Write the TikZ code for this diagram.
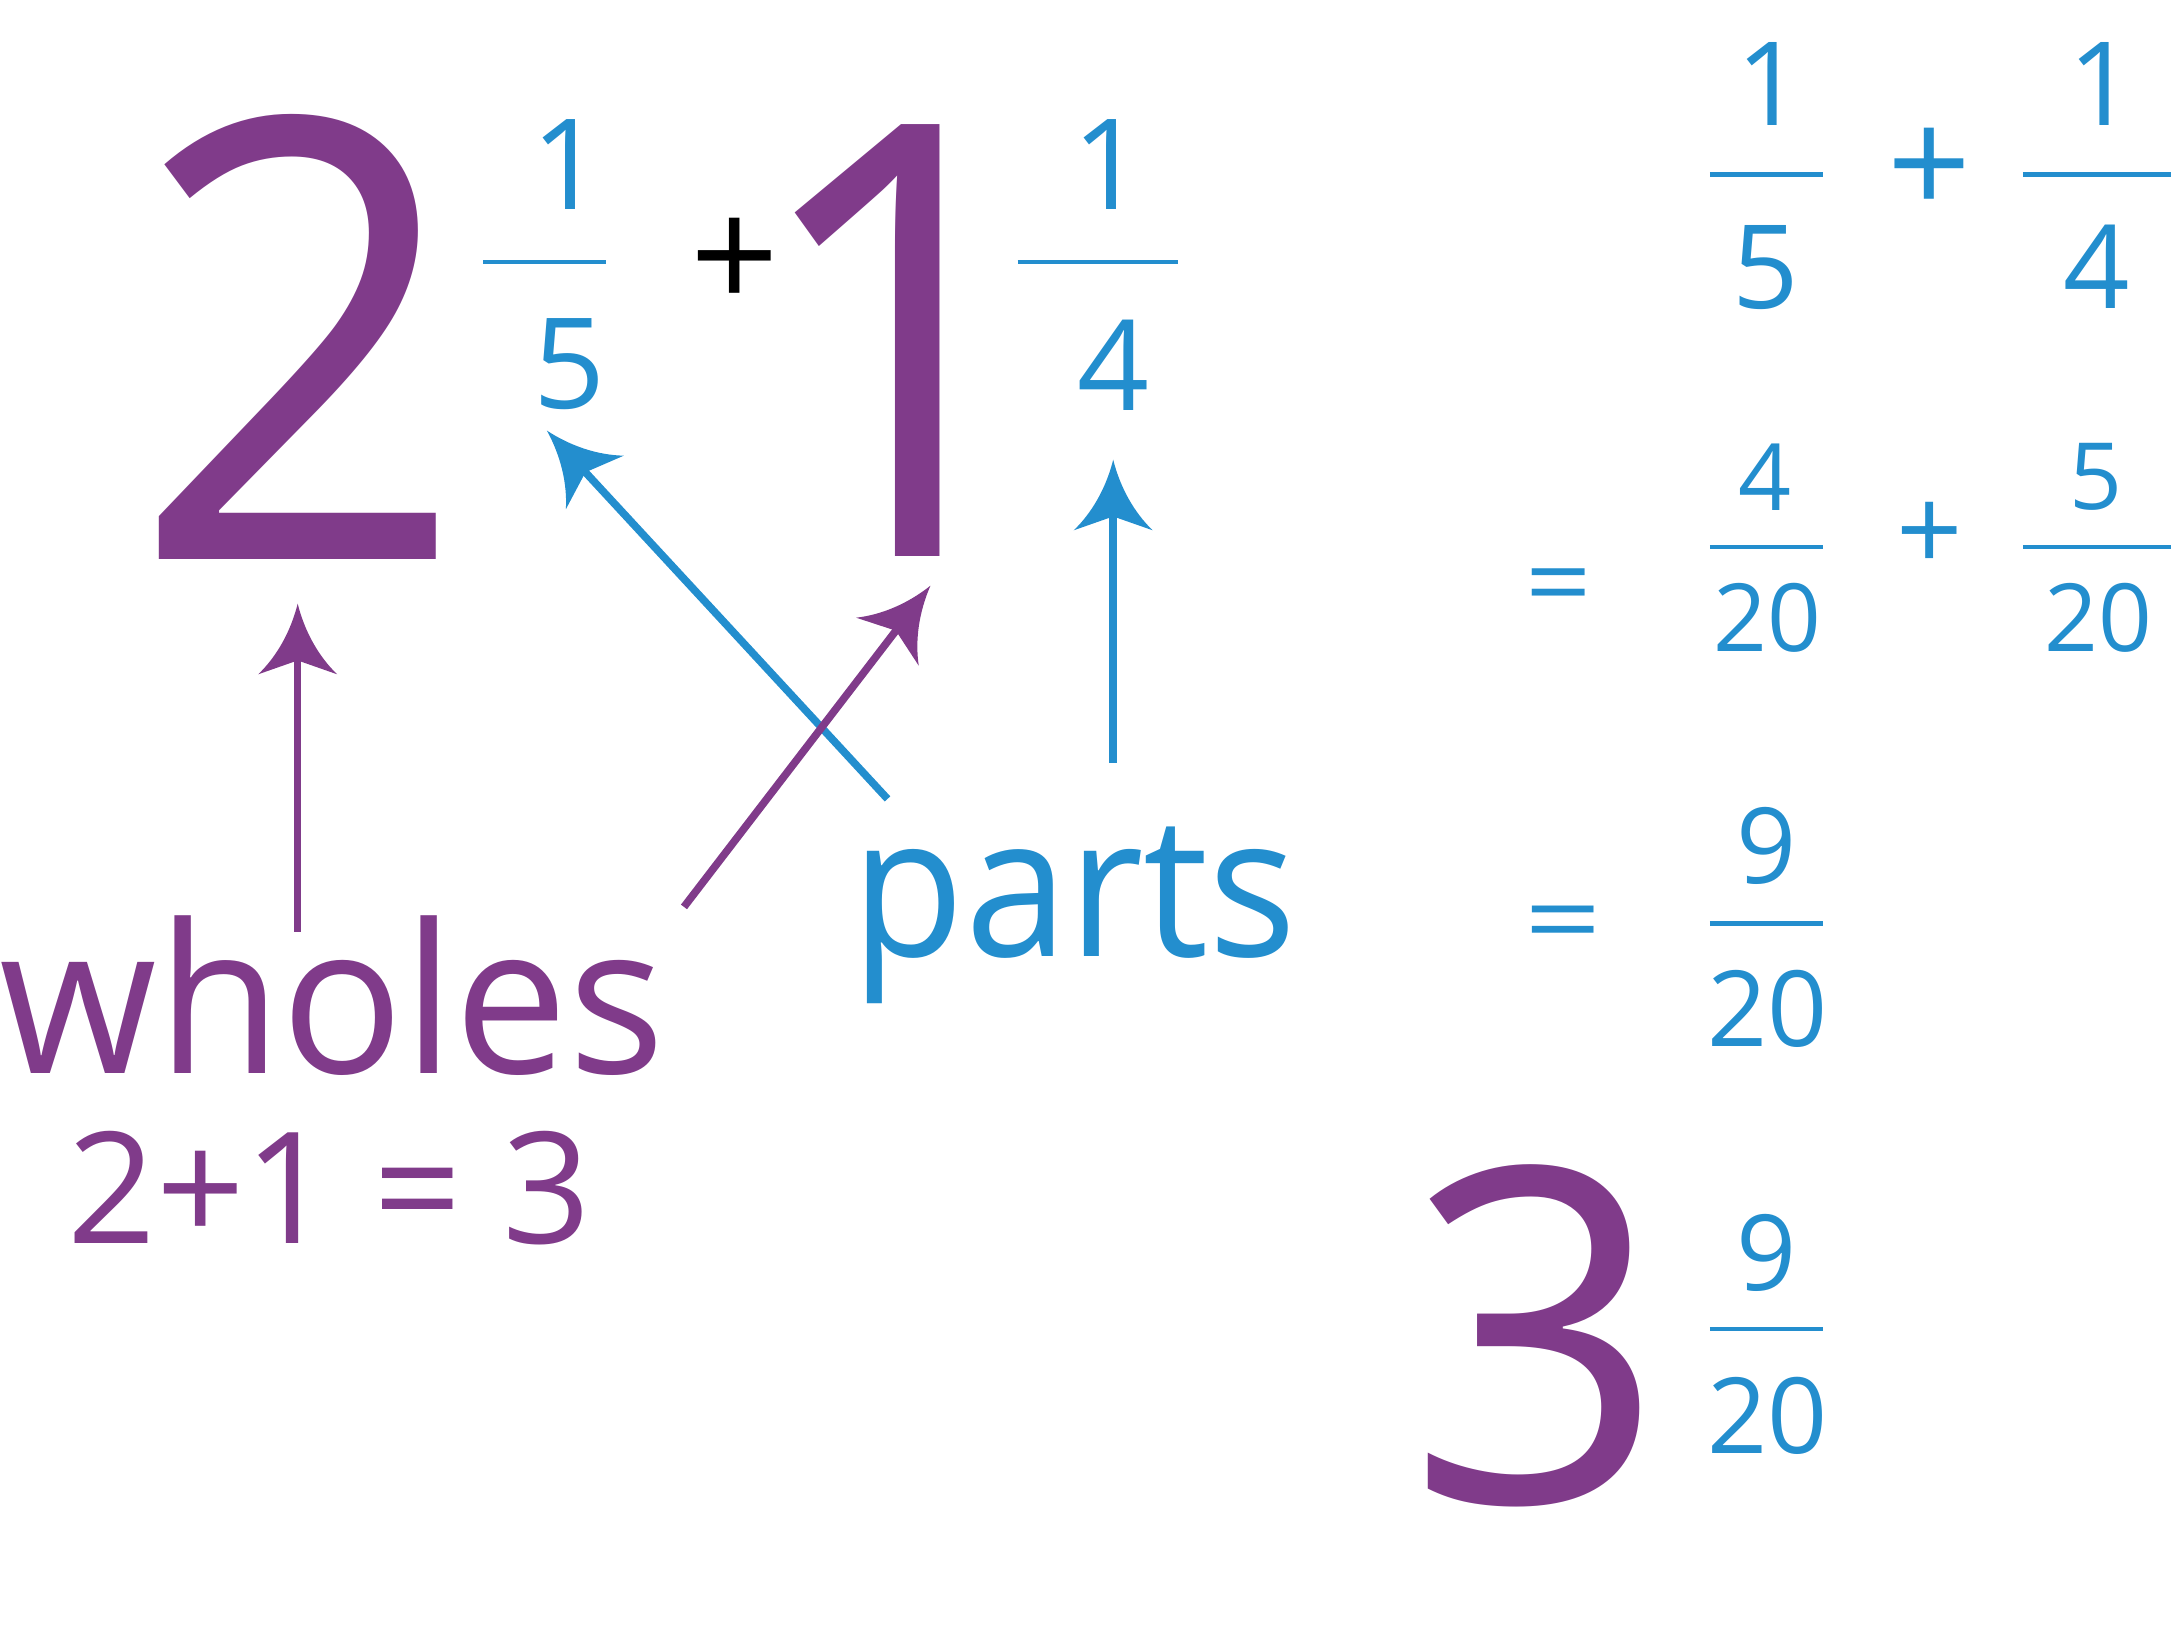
\documentclass[tikz,border=0pt]{standalone}
\usepackage{fontspec}
\setmainfont{Open Sans}
\definecolor{pur}{RGB}{128,59,138}
\definecolor{blu}{RGB}{35,142,206}
\newcommand\fsz[1]{\fontsize{#1}{#1}\selectfont}
\pgfdeclarearrow{
  name = Swoosh,
  setup code = {
    \pgfarrowssettipend{0pt}
    \pgfarrowssetlineend{-38pt}
    \pgfarrowssetbackend{-51pt}
  },
  drawing code = {
    \pgfpathmoveto{\pgfpoint{0pt}{0pt}}
    \pgfpathcurveto{\pgfpoint{-20pt}{-5pt}}{\pgfpoint{-38pt}{-15pt}}{\pgfpoint{-51pt}{-28.5pt}}
    \pgfpathlineto{\pgfpoint{-41pt}{0pt}}
    \pgfpathlineto{\pgfpoint{-51pt}{28.5pt}}
    \pgfpathcurveto{\pgfpoint{-38pt}{15pt}}{\pgfpoint{-20pt}{5pt}}{\pgfpoint{0pt}{0pt}}
    \pgfpathclose
    \pgfusepathqfill
  }
}
\tikzset{
  glyph/.style={inner sep=0pt, outer sep=0pt, anchor=center},
  word/.style={inner sep=0pt, outer sep=0pt, anchor=base},
  arr/.style={line width=5.5pt, -Swoosh},
  fbar/.style={line width=3pt, blu},
}
\begin{document}
\begin{tikzpicture}[x=1pt,y=1pt]
\useasboundingbox (0,0) rectangle (1568,-1173.65);
% left expression
\node[glyph, pur, font=\fsz{444}] (two) at (216,-243.5) {\scalebox{0.96}[1]{2}};
\node[glyph, blu, font=\fsz{91}] (n1) at (410,-118.5) {1};
\draw[fbar] (349,-189) -- (438,-189);
\node[glyph, blu, font=\fsz{91}] (d1) at (411.5,-263) {5};
\node[glyph, black, font=\fsz{112}] (plusA) at (531,-191) {+};
\node[glyph, pur, font=\fsz{437}] (one) at (625.5,-246) {\scalebox{0.93}[1]{\makebox[113pt][l]{\hspace*{-38.5pt}1}}};
\node[glyph, blu, font=\fsz{91}] (n2) at (800.5,-118.5) {1};
\draw[fbar] (735,-189) -- (851,-189);
\node[glyph, blu, font=\fsz{91}] (d2) at (804.5,-263.5) {4};
% labels
\node[word, pur, font=\fsz{150}] (wholes) at (240,-775) {\scalebox{0.975}[1]{wholes}};
\node[word, blu, font=\fsz{142}] (parts) at (776,-691) {\scalebox{0.94}[1]{parts}};
\node[word, pur, font=\fsz{112}] (sum) at (238,-898) {2+1 = 3};
% arrows
\coordinate (a1s) at (215,-673); \coordinate (a1t) at (215,-436);
\coordinate (a2s) at (804,-551); \coordinate (a2t) at (804,-332);
\coordinate (a3s) at (641,-577); \coordinate (a3t) at (395,-311);
\coordinate (a4s) at (494,-655); \coordinate (a4t) at (672,-423);
\draw[arr, pur] (a1s) -- (a1t);
\draw[arr, blu] (a2s) -- (a2t);
\draw[arr, blu] (a3s) -- (a3t);
\draw[arr, pur] (a4s) -- (a4t);
% right side row 1
\node[glyph, blu, font=\fsz{84}] (r1n1) at (1278,-61) {1};
\draw[fbar] (1235,-126) -- (1317,-126);
\node[glyph, blu, font=\fsz{84}] (r1d1) at (1275,-193) {5};
\node[glyph, blu, font=\fsz{106}] (r1p) at (1393.5,-124) {+};
\node[glyph, blu, font=\fsz{84}] (r1n2) at (1518,-61) {1};
\draw[fbar] (1461,-126) -- (1568,-126);
\node[glyph, blu, font=\fsz{84}] (r1d2) at (1514,-193) {4};
% row 2
\node[glyph, blu, font=\fsz{84}] (r2eq) at (1125.5,-429) {\scalebox{1}[0.88]{=}};
\node[glyph, blu, font=\fsz{67}] (r2n1) at (1275,-344.5) {4};
\draw[fbar] (1235,-395) -- (1317,-395);
\node[glyph, blu, font=\fsz{68}] (r2d1) at (1276.5,-446) {20};
\node[glyph, blu, font=\fsz{84}] (r2p) at (1394,-387.5) {+};
\node[glyph, blu, font=\fsz{67}] (r2n2) at (1513.5,-344.5) {5};
\draw[fbar] (1461,-395) -- (1568,-395);
\node[glyph, blu, font=\fsz{68}] (r2d2) at (1515.5,-446) {20};
% row 3
\node[glyph, blu, font=\fsz{98}] (r3eq) at (1129,-672) {\scalebox{1}[0.75]{=}};
\node[glyph, blu, font=\fsz{76}] (r3n) at (1276,-611) {9};
\draw[fbar] (1235,-667) -- (1317,-667);
\node[glyph, blu, font=\fsz{76}] (r3d) at (1276.5,-728.5) {20};
% row 4
\node[glyph, pur, font=\fsz{337}] (three) at (1110,-965) {\scalebox{0.97}[1]{3}};
\node[glyph, blu, font=\fsz{76}] (r4n) at (1276,-905) {9};
\draw[fbar] (1235,-960) -- (1317,-960);
\node[glyph, blu, font=\fsz{76}] (r4d) at (1276.5,-1022.5) {20};
\end{tikzpicture}
\end{document}
